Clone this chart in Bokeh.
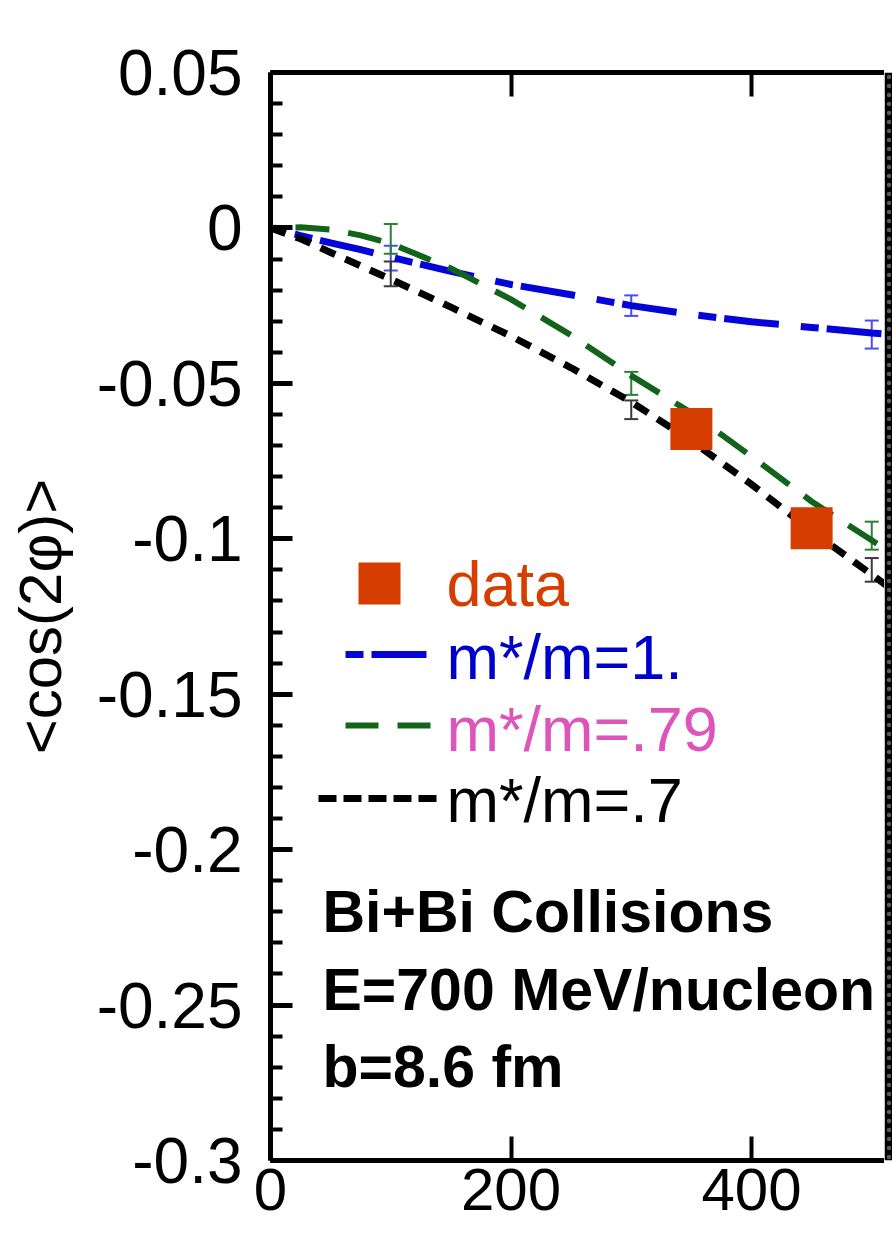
from bokeh.plotting import figure
from bokeh.models import (Range1d, LinearAxis, FixedTicker, Label, Whisker,
                          ColumnDataSource, CustomJSTickFormatter, TeeHead)
from bokeh.layouts import row
from bokeh.embed import file_html
from bokeh.resources import INLINE

# ---- data -------------------------------------------------------------
# transport-model curves of <cos(2phi)> versus beam energy (MeV/nucleon)
energy = [0, 25, 50, 75, 100, 150, 200, 250, 300, 350, 400, 450, 500, 550]
v2_mstar_100 = [0, -0.0025, -0.0048, -0.0070, -0.0094, -0.0140, -0.0182, -0.0215,
                -0.0250, -0.0278, -0.0302, -0.0320, -0.0338, -0.0355]
v2_mstar_079 = [0, 0.0002, -0.0005, -0.0024, -0.0050, -0.0130, -0.0230, -0.0345,
                -0.0475, -0.0595, -0.0735, -0.0880, -0.1005, -0.1130]
v2_mstar_070 = [0, -0.0035, -0.0079, -0.0122, -0.0165, -0.0255, -0.0348, -0.0450,
                -0.0560, -0.0685, -0.0825, -0.0975, -0.1115, -0.1260]

# statistical errors of the calculations
err_energy = [100, 300, 500]
err_100_mid = [-0.0097, -0.0250, -0.0343]
err_100_half = [0.0040, 0.0033, 0.0045]
err_079_mid = [-0.0035, -0.0500, -0.0990]
err_079_half = [0.0048, 0.0037, 0.0045]
err_070_mid = [-0.0148, -0.0585, -0.1100]
err_070_half = [0.0040, 0.0030, 0.0038]

# measured points
data_energy = [350, 450]
data_v2 = [-0.0647, -0.0966]

# axes
x_tick_values = [0, 200, 400]
x_tick_labels = ["0", "200", "400"]
y_tick_values = [0.05, 0.0, -0.05, -0.1, -0.15, -0.2, -0.25, -0.3]
y_tick_labels = ["0.05", "0", "-0.05", "-0.1", "-0.15", "-0.2", "-0.25", "-0.3"]
y_minor_values = [round(-0.3 + 0.01 * i, 2) for i in range(36)]
y_title = "<cos(2\u03c6)>"

legend_labels = ["data", "m*/m=1.", "m*/m=.79", "m*/m=.7"]
info_lines = ["Bi+Bi Collisions", "E=700 MeV/nucleon", "b=8.6 fm"]

# ---- layout -----------------------------------------------------------
W, H = 884, 1240
LEFT, TOP, BOTTOM = 270, 72, 80
PX_PER_X = 1.2025
X_END = (W - LEFT) / PX_PER_X
Y_START, Y_END = -0.3, 0.05
PX_PER_Y = (H - TOP - BOTTOM) / (Y_END - Y_START)
LABEL_SHIFT = 24  # alphabetic-baseline correction for Label text, px


def sx(px):
    """canvas pixel column -> data x"""
    return (px - LEFT) / PX_PER_X


def sy(py):
    """canvas pixel row -> data y"""
    return Y_END - (py - TOP) / PX_PER_Y


FONT = "Liberation Sans"
BLUE, GREEN, BLACK = "#0505d8", "#12641a", "#000000"
RED = "#d63d00"

p = figure(width=W, height=H, x_range=Range1d(0, X_END), y_range=Range1d(Y_START, Y_END),
           output_backend="svg", toolbar_location=None, x_axis_location=None,
           min_border_left=LEFT, min_border_right=0, min_border_top=TOP,
           min_border_bottom=BOTTOM)
p.outline_line_color = None
p.grid.visible = False
p.background_fill_color = "white"
p.border_fill_color = "white"

# left axis
yax = p.yaxis[0]
yax.ticker = FixedTicker(ticks=y_tick_values, minor_ticks=y_minor_values)
yax.major_label_overrides = {v: s for v, s in zip(y_tick_values, y_tick_labels)}
yax.major_label_text_font = FONT
yax.major_label_text_font_size = "64px"
yax.major_label_text_color = "black"
yax.major_label_standoff = 28
yax.axis_line_width = 5
yax.axis_line_color = "black"
yax.major_tick_in = 22
yax.major_tick_out = 0
yax.major_tick_line_width = 5
yax.minor_tick_in = 12
yax.minor_tick_out = 0
yax.minor_tick_line_width = 4
yax.axis_label = y_title
yax.axis_label_text_font = FONT
yax.axis_label_text_font_size = "60px"
yax.axis_label_text_font_style = "normal"
yax.axis_label_text_color = "black"
yax.axis_label_standoff = 20

# top frame edge: ticks only
top_ax = LinearAxis(ticker=FixedTicker(ticks=x_tick_values, minor_ticks=[]),
                    formatter=CustomJSTickFormatter(code="return ''"),
                    axis_line_width=5, major_tick_in=24, major_tick_out=0,
                    major_tick_line_width=4, minor_tick_line_color=None)
p.add_layout(top_ax, "above")

# bottom axis with labels
bot_ax = LinearAxis(ticker=FixedTicker(ticks=x_tick_values, minor_ticks=[]),
                    major_label_overrides={v: s for v, s in zip(x_tick_values, x_tick_labels)},
                    axis_line_width=5, major_tick_in=24, major_tick_out=0,
                    major_tick_line_width=4, minor_tick_line_color=None,
                    major_label_standoff=8, major_label_text_font=FONT,
                    major_label_text_font_size="60px", major_label_text_color="black")
p.add_layout(bot_ax, "below")

# model curves
p.line(energy, v2_mstar_100, line_color=BLUE, line_width=7, line_dash="55 22 18 8",
       line_dash_offset=52)
p.line(energy, v2_mstar_079, line_color=GREEN, line_width=6, line_dash="34 19",
       line_dash_offset=28)
p.line(energy, v2_mstar_070, line_color=BLACK, line_width=7, line_dash="16 11")

# error bars
for mid, half, col in ((err_100_mid, err_100_half, "#4b4bf0"),
                       (err_079_mid, err_079_half, "#2f7f33"),
                       (err_070_mid, err_070_half, "#3a3a3a")):
    src = ColumnDataSource(dict(x=err_energy,
                                lo=[m - h for m, h in zip(mid, half)],
                                hi=[m + h for m, h in zip(mid, half)]))
    p.add_layout(Whisker(source=src, base="x", lower="lo", upper="hi", dimension="height",
                         line_color=col, line_width=2,
                         lower_head=TeeHead(size=14, line_color=col, line_width=2),
                         upper_head=TeeHead(size=14, line_color=col, line_width=2)))

# measured values
p.scatter(data_energy, data_v2, marker="square", size=42, fill_color=RED, line_color=None)

# legend
p.scatter([sx(379)], [sy(583)], marker="square", size=42, fill_color=RED, line_color=None)
p.line([sx(345), sx(430)], [sy(654)] * 2, line_color=BLUE, line_width=7,
       line_dash="55 22 18 8", line_dash_offset=77)
p.line([sx(345), sx(430)], [sy(725)] * 2, line_color=GREEN, line_width=6, line_dash="33 19")
p.line([sx(318), sx(437)], [sy(798)] * 2, line_color=BLACK, line_width=7, line_dash="18 7")
legend_colors = [RED, "#0000cc", "#dd55bb", "black"]
legend_rows = [607, 680, 752, 823]
for txt, col, py in zip(legend_labels, legend_colors, legend_rows):
    p.add_layout(Label(x=sx(446), y=sy(py - LABEL_SHIFT), text=txt, text_align="left",
                       text_baseline="alphabetic", text_font=FONT,
                       text_font_size="63px", text_color=col))

# run conditions
for txt, py in zip(info_lines, [935, 1013, 1090]):
    p.add_layout(Label(x=sx(322), y=sy(py - LABEL_SHIFT), text=txt, text_align="left",
                       text_baseline="alphabetic", text_font=FONT, text_font_style="bold",
                       text_font_size="59px", text_color="black"))

# ragged dark strip along the right edge
edge = figure(width=892 - W, height=H, x_range=Range1d(0, 1), y_range=Range1d(0, 1),
              output_backend="svg", toolbar_location=None, x_axis_location=None,
              y_axis_location=None, min_border=0)
edge.outline_line_color = None
edge.grid.visible = False
edge.quad(left=[0], right=[1], bottom=[0], top=[1], fill_color="black", line_color=None,
          hatch_pattern="dot", hatch_color="white", hatch_scale=9, hatch_weight=1,
          hatch_alpha=0.35)

layout = row(p, edge, spacing=0)
open("out.html", "w").write(file_html(layout, INLINE))
